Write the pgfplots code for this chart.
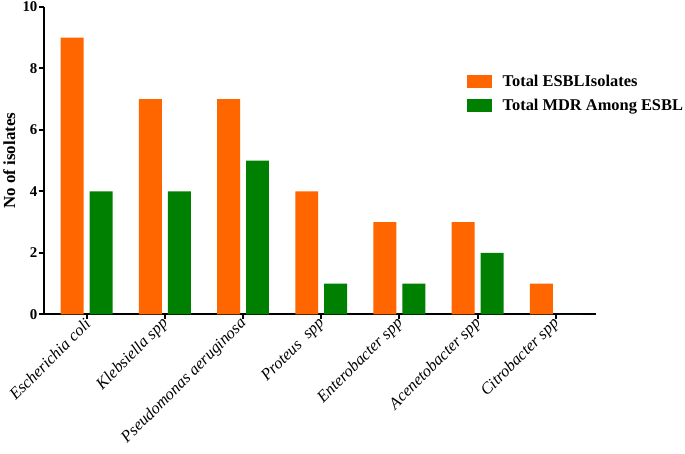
\documentclass[border=0pt]{standalone}
\usepackage{fontspec}
\setmainfont{Liberation Serif}
\usepackage{pgfplots}
\pgfplotsset{compat=1.18}
\definecolor{esbl}{HTML}{FF6600}
\definecolor{mdr}{HTML}{008000}
\begin{document}
\begin{tikzpicture}
\begin{axis}[
  at={(0,0)}, anchor=south west,
  scale only axis, width=554bp, height=308bp,
  xmin=-0.55, xmax=6.52, ymin=0, ymax=10,
  axis x line=bottom, axis y line=left,
  axis line style={-, line width=2.2bp, black},
  ytick={0,2,4,6,8,10},
  xtick={0,1,2,3,4,5,6},
  xticklabels={Escherichia coli, Klebsiella spp, Pseudomonas aeruginosa, Proteus\ \ spp, Enterobacter spp, Acenetobacter spp, Citrobacter spp},
  tick style={line width=2bp, black},
  major tick length=5bp, tick align=outside,
  /pgf/number format/assume math mode=true,
  yticklabel style={font=\fontsize{15}{15}\selectfont\bfseries, inner sep=1pt},
  xticklabel style={font=\fontsize{16.5}{16.5}\selectfont\itshape, rotate=45, anchor=east, inner sep=2pt, xshift=1.5bp, yshift=-2bp},
  ylabel={No of isolates},
  ylabel style={font=\fontsize{17}{17}\selectfont\bfseries, at={(axis description cs:-0.062,0.5)}, anchor=center},
  ybar, bar width=23bp,
  legend style={at={(0.765,0.787)}, anchor=north west, draw=none, fill=none,
    font=\fontsize{16.5}{16.5}\selectfont\bfseries, row sep=8bp, column sep=9bp, inner sep=0pt,
    cells={anchor=west}},
]
\addplot[fill=esbl, draw=none, bar shift=-14.5bp,
  legend image code/.code={\fill[esbl] (0bp,-6.5bp) rectangle (25bp,6.5bp);}]
  coordinates {(0,9) (1,7) (2,7) (3,4) (4,3) (5,3) (6,1)};
\addlegendentry{Total ESBLIsolates}
\addplot[fill=mdr, draw=none, bar shift=14.5bp,
  legend image code/.code={\fill[mdr] (0bp,-6.5bp) rectangle (25bp,6.5bp);}]
  coordinates {(0,4) (1,4) (2,5) (3,1) (4,1) (5,2) (6,0)};
\addlegendentry{Total MDR Among ESBL}
\end{axis}
\path[use as bounding box] (-43bp,-139bp) rectangle (642bp,315bp);
\end{tikzpicture}
\end{document}
